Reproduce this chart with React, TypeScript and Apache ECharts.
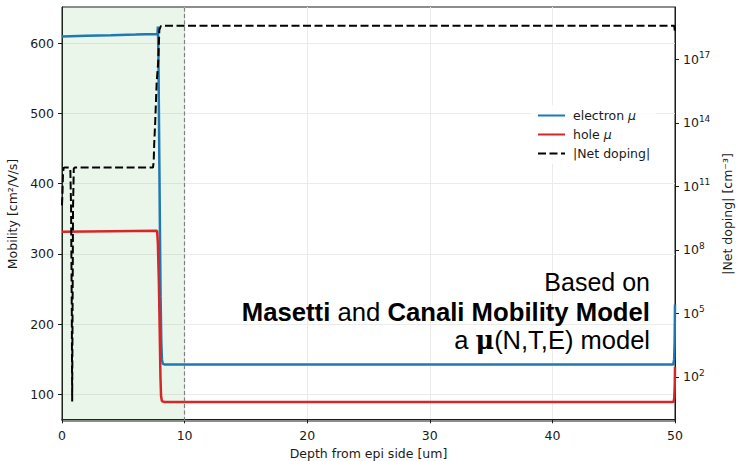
import React, { useEffect, useRef } from 'react';
import * as echarts from 'echarts';

// ---- data ----
const depthElectron = [0, 2, 4, 6, 7.74, 7.79, 7.82, 7.86, 7.92, 7.98, 8.04, 8.1, 8.15, 8.22, 8.35, 49.86, 49.93, 49.97, 50];
const electronMobility = [609.4, 610.3, 611.1, 612, 612.8, 614, 623.5, 590, 470, 350, 240, 175, 150, 144, 142.7, 142.7, 150, 175, 228];

const depthHole = [0, 4, 7.72, 7.76, 7.82, 7.9, 7.97, 8.03, 8.08, 8.14, 8.22, 8.4, 49.88, 49.94, 49.98, 50];
const holeMobility = [331.7, 332.4, 333, 332, 315, 260, 190, 125, 98, 91.5, 90, 89.5, 89.5, 95, 115, 139];

const depthDoping = [0, 0.04, 0.08, 0.13, 0.2, 0.62, 0.68, 0.74, 0.8, 0.83, 0.86, 0.9, 0.96, 1.05, 7.42, 7.48, 7.52, 7.6, 7.72, 7.85, 7.94, 8.05, 8.2, 49.94, 50];
const netDoping = [1.3e10, 5e10, 4e11, 7.5e11, 7.8e11, 7.8e11, 7e11, 1e10, 1e5, 7, 1e5, 1e10, 7e11, 7.8e11, 7.8e11, 1.5e12, 1e13, 1e14, 8e15, 8e16, 2.5e18, 3.7e18, 3.9e18, 3.9e18, 1.9e18];

const xTicks = [0, 10, 20, 30, 40, 50];
const mobilityTicks = [100, 200, 300, 400, 500, 600];
const dopingTickExponents = [2, 5, 8, 11, 14, 17];

const epiRegion = [0, 10];

const TXT = '#1a1a1a';
const FONT = 'DejaVu Sans';
const FS = 12.5;

export default function App() {
  const ref = useRef<HTMLDivElement>(null);

  useEffect(() => {
    if (!ref.current) return;
    const chart = echarts.init(ref.current, null, { renderer: 'svg' });

    const electron = depthElectron.map((x, i) => [x, electronMobility[i]]);
    const hole = depthHole.map((x, i) => [x, holeMobility[i]]);
    const doping = depthDoping.map((x, i) => [x, Math.log10(netDoping[i])]);

    const axisLineStyle = { color: TXT, width: 1 };
    const labelStyle = { color: TXT, fontSize: FS, fontFamily: FONT };
    const splitLine = { show: true, lineStyle: { color: '#ebebeb', width: 1 } };

    chart.setOption({
      animation: false,
      backgroundColor: '#ffffff',
      textStyle: { fontFamily: FONT },
      grid: {
        left: 62, right: 62, top: 7, bottom: 40,
        show: true, borderColor: TXT, borderWidth: 1, backgroundColor: 'transparent',
        containLabel: false, outerBoundsMode: 'none',
      },
      legend: {
        orient: 'vertical',
        left: 531, top: 105,
        padding: [4, 6],
        itemGap: 6,
        itemWidth: 27,
        itemHeight: 14,
        backgroundColor: 'rgba(255,255,255,0.85)',
        selectedMode: false,
        itemStyle: { color: 'rgba(0,0,0,0)', borderWidth: 0, opacity: 0 },
        data: ['electron μ', 'hole μ', '|Net doping|'],
        formatter: (name: string) => (name.endsWith(' μ') ? name.slice(0, -1) + '{i|μ}' : name),
        textStyle: {
          color: TXT, fontSize: FS, fontFamily: FONT, padding: [0, 0, 0, 3],
          rich: { i: { fontStyle: 'italic', fontSize: FS, fontFamily: FONT, color: TXT } },
        },
      },
      xAxis: {
        type: 'value', min: xTicks[0], max: xTicks[xTicks.length - 1], interval: 10,
        name: 'Depth from epi side [um]', nameLocation: 'middle', nameGap: 25,
        nameTextStyle: { ...labelStyle },
        axisLine: { show: true, lineStyle: axisLineStyle },
        axisTick: { show: true, length: 4, lineStyle: axisLineStyle },
        axisLabel: { ...labelStyle, margin: 8 },
        splitLine,
      },
      yAxis: [
        {
          type: 'value', min: 62.4, max: 651.2, position: 'left',
          name: 'Mobility [cm²/V/s]', nameLocation: 'middle', nameGap: 42, nameRotate: 90,
          nameTextStyle: { ...labelStyle },
          axisLine: { show: true, lineStyle: axisLineStyle },
          axisTick: { show: true, length: 4, lineStyle: axisLineStyle, customValues: mobilityTicks },
          axisLabel: { ...labelStyle, margin: 8, customValues: mobilityTicks },
          splitLine,
        },
        {
          type: 'value', min: -0.08, max: 19.48, position: 'right',
          name: '|Net doping| [cm⁻³]', nameLocation: 'middle', nameGap: 43, nameRotate: 90,
          nameTextStyle: { ...labelStyle },
          axisLine: { show: true, lineStyle: axisLineStyle },
          axisTick: { show: true, length: 4, lineStyle: axisLineStyle, customValues: dopingTickExponents },
          axisLabel: {
            ...labelStyle, margin: 8, customValues: dopingTickExponents,
            formatter: (v: number) => `{b|10}{s|${Math.round(v)}}`,
            rich: {
              b: { fontSize: FS, fontFamily: FONT, color: TXT, lineHeight: 17 },
              s: { fontSize: 9, fontFamily: FONT, color: TXT, lineHeight: 9, verticalAlign: 'top' },
            },
          },
          splitLine: { show: false },
        },
      ],
      series: [
        {
          name: 'electron μ', type: 'line', yAxisIndex: 0, data: electron,
          symbol: 'none', z: 3,
          lineStyle: { color: '#1f77b4', width: 2.5 },
          itemStyle: { color: '#1f77b4' },
          markArea: {
            silent: true,
            itemStyle: { color: 'rgba(60,170,60,0.1)' },
            data: [[{ xAxis: epiRegion[0] }, { xAxis: epiRegion[1] }]],
          },
        },
        {
          name: 'hole μ', type: 'line', yAxisIndex: 0, data: hole,
          symbol: 'none', z: 3,
          lineStyle: { color: '#d62728', width: 2.5 },
          itemStyle: { color: '#d62728' },
          markLine: {
            silent: true, symbol: 'none', label: { show: false },
            lineStyle: { color: '#808080', type: [4, 2.5], width: 1.2 },
            data: [{ xAxis: epiRegion[1] }],
          },
        },
        {
          name: '|Net doping|', type: 'line', yAxisIndex: 1, data: doping,
          symbol: 'none', z: 4,
          lineStyle: { color: '#000000', width: 2, type: [8, 3.5] },
          itemStyle: { color: '#000000' },
        },
      ],
      graphic: [
        {
          type: 'text', x: 650, y: 282, z: 10, silent: true,
          style: {
            text: 'Based on', fontSize: 25, fontFamily: 'Liberation Sans', fill: '#000',
            align: 'right', verticalAlign: 'middle',
          },
        },
        {
          type: 'text', x: 650, y: 312, z: 10, silent: true,
          style: {
            text: '{r|Masetti} and {r|Canali Mobility Model}',
            fontSize: 25.7, fontFamily: 'Liberation Sans', fill: '#000',
            align: 'right', verticalAlign: 'middle',
            rich: { r: { fontWeight: 'bold', fontSize: 25.7, fontFamily: 'Liberation Sans', fill: '#000' } },
          },
        },
        {
          type: 'text', x: 650, y: 340, z: 10, silent: true,
          style: {
            text: 'a {m|μ}(N,T,E) model',
            fontSize: 25.5, fontFamily: 'Liberation Sans', fill: '#000',
            align: 'right', verticalAlign: 'middle',
            rich: { m: { fontWeight: 'bold', fontSize: 25.5, fontFamily: 'DejaVu Serif', fill: '#000' } },
          },
        },
      ],
    });

    return () => chart.dispose();
  }, []);

  return <div ref={ref} style={{ position: 'fixed', left: 0, top: 0, width: 737, height: 461 }} />;
}
